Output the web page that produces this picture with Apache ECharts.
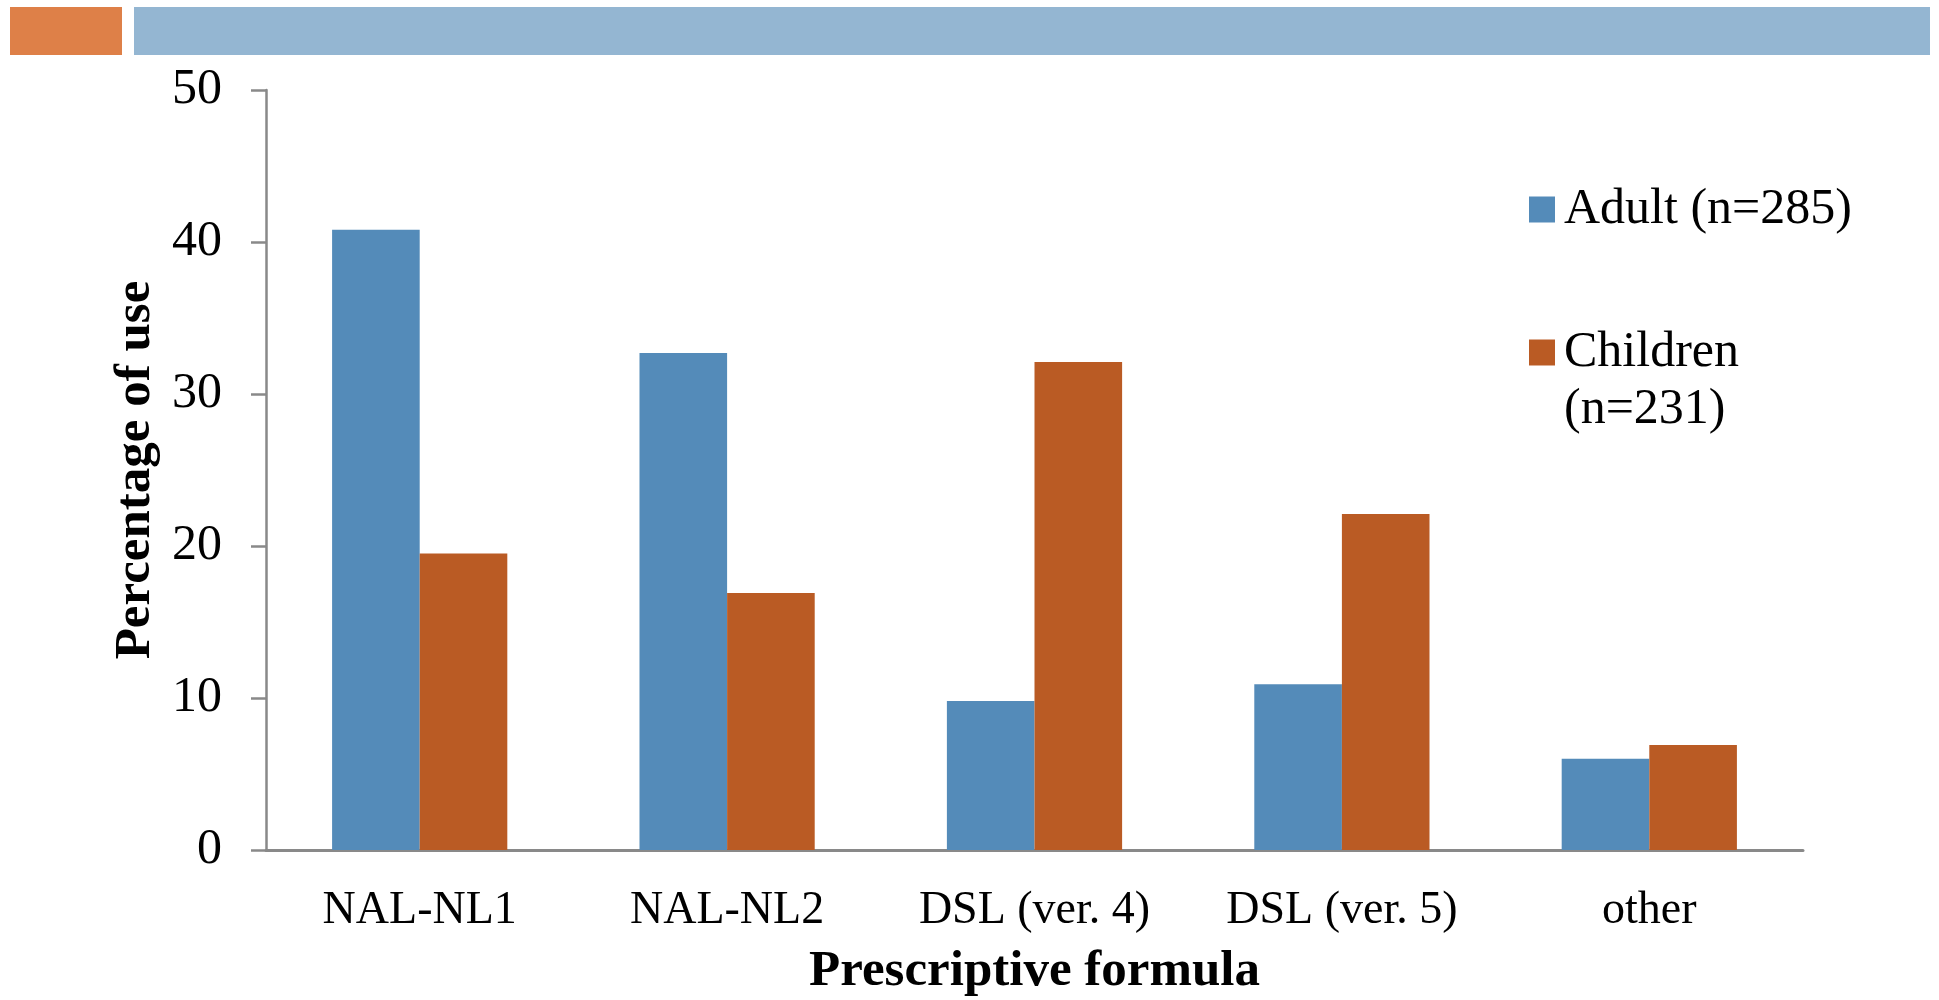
<!DOCTYPE html>
<html>
<head>
<meta charset="utf-8">
<script src="https://cdn.jsdelivr.net/npm/echarts@6/dist/echarts.min.js"></script>
<style>
  html, body { margin: 0; padding: 0; background: #ffffff; }
  #chart { width: 1939px; height: 1000px; }
</style>
</head>
<body>
<div id="chart"></div>
<script>
// Prescriptive formula usage by patient group (percent of respondents)
var categories = ['NAL-NL1', 'NAL-NL2', 'DSL (ver. 4)', 'DSL (ver. 5)', 'other'];
var adultValues = [40.8, 32.7, 9.8, 10.9, 6.0];
var childrenValues = [19.5, 16.9, 32.1, 22.1, 6.9];
var seriesNames = ['Adult (n=285)', 'Children (n=231)'];
var yTicks = [0, 10, 20, 30, 40, 50];

var FONT = '"Liberation Serif", "DejaVu Serif", serif';
var AXIS_GREY = '#898989';

var chart = echarts.init(document.getElementById('chart'), null, { renderer: 'canvas' });

chart.setOption({
  backgroundColor: '#ffffff',
  animation: false,
  textStyle: { fontFamily: FONT, color: '#000000' },
  graphic: [
    // header strip
    { type: 'rect', shape: { x: 10, y: 7, width: 112, height: 48 }, style: { fill: '#DE8048' } },
    { type: 'rect', shape: { x: 134, y: 7, width: 1796, height: 48 }, style: { fill: '#94B6D2' } }
  ],
  grid: { left: 266, right: 136, top: 90, bottom: 150, containLabel: false, outerBoundsMode: 'none' },
  legend: {
    orient: 'vertical',
    left: 1529,
    top: 181,
    padding: 0,
    itemWidth: 26,
    itemHeight: 26,
    itemGap: 29,
    icon: 'rect',
    data: seriesNames,
    formatter: function (name) {
      // the leading empty line keeps the swatch level with "Children"
      return name === seriesNames[1] ? '\nChildren\n(n=231)' : name;
    },
    textStyle: { fontFamily: FONT, fontSize: 50, lineHeight: 57, color: '#000000', padding: [0, 0, 0, 4] }
  },
  xAxis: {
    type: 'category',
    data: categories,
    name: 'Prescriptive formula',
    nameLocation: 'middle',
    nameGap: 96,
    nameTextStyle: { fontFamily: FONT, fontSize: 51, fontWeight: 'bold', color: '#000000' },
    axisLine: { show: true, lineStyle: { color: AXIS_GREY, width: 3 } },
    axisTick: { show: false },
    axisLabel: { fontFamily: FONT, fontSize: 46, color: '#000000', margin: 61, verticalAlign: 'middle', interval: 0 },
    splitLine: { show: false }
  },
  yAxis: {
    type: 'value',
    min: yTicks[0],
    max: yTicks[yTicks.length - 1],
    interval: yTicks[1] - yTicks[0],
    name: 'Percentage of use',
    nameLocation: 'middle',
    nameRotate: 90,
    nameGap: 103,
    nameTextStyle: { fontFamily: FONT, fontSize: 51, fontWeight: 'bold', color: '#000000' },
    axisLine: { show: true, lineStyle: { color: AXIS_GREY, width: 2.5 } },
    axisTick: { show: true, inside: false, length: 15, lineStyle: { color: AXIS_GREY, width: 2.5 } },
    axisLabel: { fontFamily: FONT, fontSize: 50, color: '#000000', margin: 44 },
    splitLine: { show: false }
  },
  series: [
    {
      name: seriesNames[0],
      type: 'bar',
      data: adultValues,
      barGap: '0%',
      barCategoryGap: '43%',
      itemStyle: { color: '#548BB9' }
    },
    {
      name: seriesNames[1],
      type: 'bar',
      data: childrenValues,
      barGap: '0%',
      barCategoryGap: '43%',
      itemStyle: { color: '#BA5B24' }
    }
  ]
});
</script>
</body>
</html>
